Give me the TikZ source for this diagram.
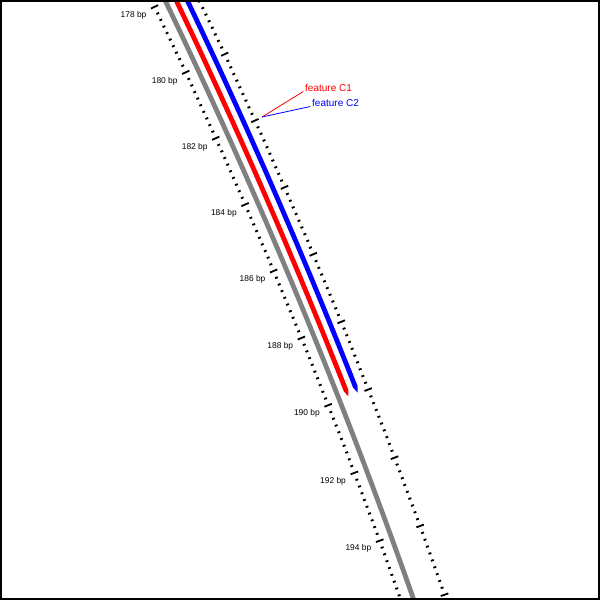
\documentclass[tikz,border=0pt]{standalone}
\usepackage{fontspec}
\setmainfont{Liberation Sans}
\definecolor{trackgray}{RGB}{128,128,128}
\definecolor{fred}{RGB}{255,0,0}
\definecolor{fblue}{RGB}{0,0,255}
\begin{document}
\begin{tikzpicture}[x=1pt,y=1pt,
  track/.style={line width=4.8pt},
  tickmajor/.style={line width=1.8pt},
  tickminor/.style={line width=1.8pt},
  bplabel/.style={font=\fontsize{8.4}{9}\selectfont, inner sep=0pt, anchor=north east},
  flabel/.style={font=\fontsize{10}{12}\selectfont, inner sep=0pt, anchor=base west},
  leader/.style={line width=0.8pt}]
\useasboundingbox (0,0) rectangle (600,-600);
\begin{scope}
\clip (0,0) rectangle (600,-600);
\begin{scope}[shift={(-5143,-2553)}]
  % gray track
  \draw[track, trackgray] (27:5890) arc[start angle=27, end angle=18, radius=5890];
  % features
  \pgfmathsetmacro\atip{25.67-0.3531*11.97}
  \pgfmathsetmacro\abase{25.67-0.3531*11.8}
  \fill[fred] (27:5897.6) arc[start angle=27, end angle=\abase, radius=5897.6]
     -- (\atip:5900) -- (\abase:5902.4) arc[start angle=\abase, end angle=27, radius=5902.4] -- cycle;
  \fill[fblue] (27:5907.6) arc[start angle=27, end angle=\abase, radius=5907.6]
     -- (\atip:5910) -- (\abase:5912.4) arc[start angle=\abase, end angle=27, radius=5912.4] -- cycle;
  % scale ticks
  \foreach \i in {0,...,110}{
    \pgfmathsetmacro\ang{26.3762-0.07062*\i}
    \pgfmathtruncatemacro\m{mod(\i,10)}
    \ifnum\m=0
      \draw[tickmajor] (\ang:5874) -- (\ang:5882);
      \draw[tickmajor] (\ang:5917) -- (\ang:5925);
    \else
      \draw[tickminor] (\ang:5876.5) -- (\ang:5879.5);
      \draw[tickminor] (\ang:5919.5) -- (\ang:5922.5);
    \fi
  }
  % labels
  \foreach \b in {178,180,...,194}{
    \pgfmathsetmacro\ang{25.67-0.3531*(\b-178)}
    \node[bplabel] (lab\b) at ([xshift=2pt]\ang:5867) {\b\ bp};
  }
\end{scope}
\end{scope}
% feature labels
\coordinate (fp) at (262,-117);
\node[flabel, text=fred] (f1) at (305,-91.5) {feature C1};
\node[flabel, text=fblue] (f2) at (312,-106.5) {feature C2};
\draw[leader, fred] (fp) -- ([xshift=-1.7pt]f1.base west);
\draw[leader, fblue] (fp) -- ([xshift=-1.7pt]f2.base west);
% frame
\draw[line width=2pt] (1,-1) rectangle (599,-599);
\end{tikzpicture}
\end{document}
